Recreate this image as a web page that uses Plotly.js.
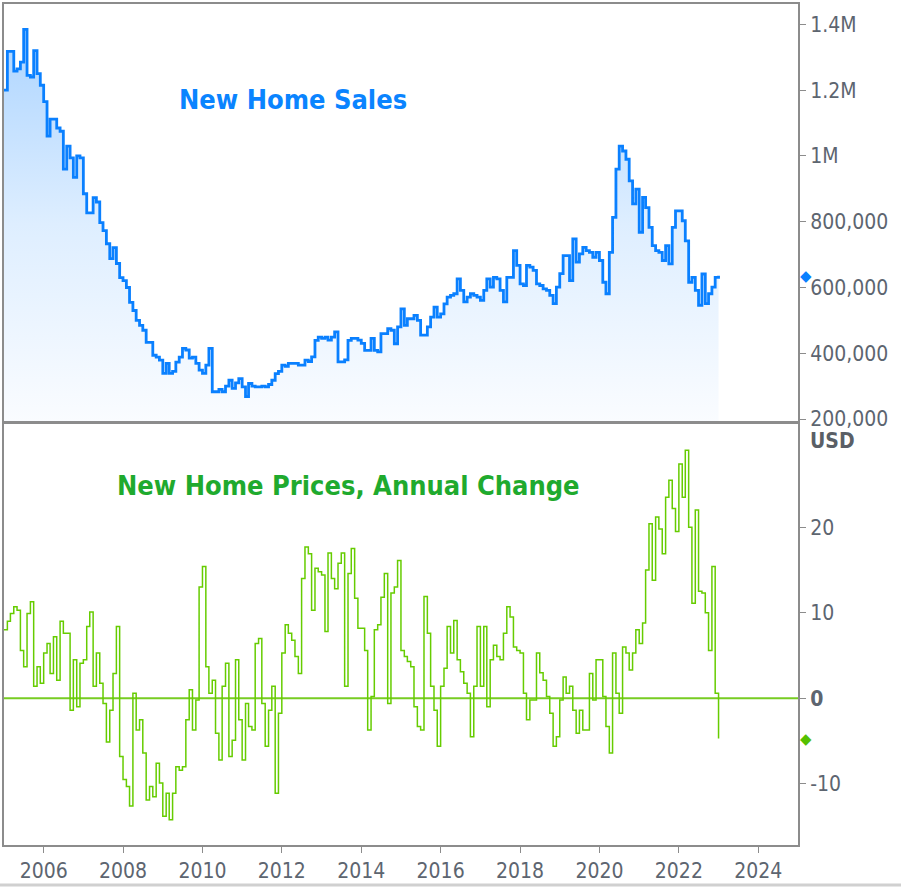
<!DOCTYPE html>
<html>
<head>
<meta charset="utf-8">
<script src="https://cdn.plot.ly/plotly-3.0.1.min.js"></script>
<style>html,body{margin:0;padding:0;background:#fff;}#chart{width:901px;height:888px;}</style>
</head>
<body>
<div id="chart"></div>
<script>
// Monthly series, Jan 2005 .. Jan 2023
const startYear = 2005;
// New home sales, thousands (SAAR)
const salesThousands = [
  1200,1318,1318,1258,1265,1285,1385,1245,1240,1320,1250,1215,
  1165,1060,1112,1112,1085,1075,960,1030,994,935,1000,994,
  885,827,827,873,860,797,773,733,688,721,673,630,
  621,600,555,530,500,485,470,433,433,394,388,379,
  339,369,339,345,373,388,415,410,385,388,369,349,
  339,364,415,283,283,290,283,300,318,293,310,323,
  298,268,308,300,298,298,300,298,305,318,338,345,
  364,360,369,369,369,364,364,379,375,389,439,449,
  445,449,440,449,465,374,374,380,439,445,445,440,
  430,409,409,445,409,404,460,460,475,470,429,480,
  535,485,505,505,515,500,455,455,480,510,540,510,
  520,550,571,576,581,626,591,556,571,581,576,571,
  561,591,626,601,631,626,591,556,631,631,712,667,
  611,606,667,662,652,611,606,596,591,576,551,601,
  642,697,697,621,748,677,702,722,712,707,692,707,
  682,616,581,707,813,960,1030,1015,990,924,854,899,
  768,874,843,783,727,712,707,682,727,672,783,833,
  833,803,742,616,631,591,546,641,551,581,601,631,
  636
];
// New home prices, annual change (%)
const priceChange = [
  8.0,9.0,9.9,10.7,10.3,5.6,3.7,9.9,11.3,1.4,3.7,1.75,
  5.3,6.4,2.9,7.2,2.1,9.0,7.6,7.6,-1.4,4.5,-1.0,4.1,
  4.5,8.4,10.1,1.4,5.3,1.75,-0.6,-5.1,-1.4,2.9,8.4,-6.8,
  -9.5,-10.3,-12.6,0.6,-3.7,-2.5,-6.4,-11.9,-10.3,-11.5,-7.6,-9.9,
  -13.8,-11.1,-14.2,-11.1,-8.0,-8.4,-8.0,-2.5,1.0,-3.7,-0.2,13.0,
  15.4,3.7,0.6,2.1,-4.1,-7.2,1.4,4.1,-6.8,-4.9,4.5,-2.5,
  -7.2,-0.6,-3.3,-3.7,6.4,7.0,-0.6,-5.6,-1.4,1.4,-11.1,-1.75,
  5.3,8.6,7.6,6.8,4.9,2.9,14.0,17.7,16.9,10.3,15.2,14.8,
  14.4,7.8,17.0,14.0,12.8,15.8,17.0,1.4,14.6,17.5,11.7,8.2,
  8.2,5.6,-3.7,0.2,8.0,8.6,11.8,14.6,-0.6,12.3,13.0,16.1,
  5.6,4.9,4.3,3.7,-1.0,-3.3,-3.7,11.9,7.6,1.4,-1.4,-5.6,
  1.4,3.5,8.4,5.3,9.1,4.5,3.1,1.75,0.6,-4.5,1.4,8.4,
  1.4,8.4,-1.0,4.5,6.2,4.9,4.5,7.6,10.7,9.5,6.0,5.6,
  5.3,0.6,-2.5,-0.2,-0.2,5.3,3.0,2.1,0.2,-1.75,-5.6,-4.5,
  -0.2,2.5,0.6,1.4,-1.4,-4.1,-1.4,-3.7,-3.7,2.9,-0.2,4.5,
  4.5,0.2,-3.3,-6.4,5.3,0.6,-1.75,6.0,5.3,3.3,5.3,8.0,
  6.4,8.8,15.0,20.4,13.8,21.2,19.8,16.9,23.5,25.5,22.2,19.5,
  27.4,23.5,29.0,20.0,11.1,22.0,12.5,12.3,10.0,5.6,15.4,0.6,
  -4.7
];
const xTickYears = ['2006','2008','2010','2012','2014','2016','2018','2020','2022','2024'];
const salesTickVals = [200,400,600,800,1000,1200,1400];
const salesTickText = ['200,000','400,000','600,000','800,000','1M','1.2M','1.4M'];
const priceTickVals = [-10,0,10,20];
const priceTickText = ['-10','<b>0</b>','10','20'];
const salesTitle = 'New Home Sales';
const priceTitle = 'New Home Prices, Annual Change';
const unitLabel = 'USD';

const months = salesThousands.map((_, i) => {
  const y = startYear + Math.floor(i / 12);
  const m = (i % 12) + 1;
  return y + '-' + String(m).padStart(2, '0') + '-01';
});

const FONT = "'DejaVu Sans Condensed', 'DejaVu Sans', Verdana, sans-serif";
const TICKCOL = '#5d6570';
const FRAME = '#8c8c8c';
const BLUE = '#0a80ff';
const GREEN = '#66cc00';

const traces = [
  {
    x: months, y: salesThousands, xaxis: 'x2', yaxis: 'y',
    type: 'scatter', mode: 'lines',
    line: {color: BLUE, width: 2.8, shape: 'hv'},
    fill: 'tozeroy',
    fillgradient: {type: 'vertical', start: 191, stop: 1390,
      colorscale: [[0, 'rgba(250,252,255,1)'], [0.5, 'rgba(222,238,255,1)'], [1, 'rgba(172,212,255,1)']]},
    hoverinfo: 'skip', showlegend: false
  },
  {
    x: months, y: priceChange, xaxis: 'x', yaxis: 'y2',
    type: 'scatter', mode: 'lines',
    line: {color: GREEN, width: 1.5, shape: 'hv'},
    hoverinfo: 'skip', showlegend: false
  }
];

const xCommon = {
  range: ['2005-01-01', '2025-01-01'],
  domain: [4/901, 798/901],
  showgrid: false, zeroline: false,
  showline: true, linecolor: FRAME, linewidth: 2,
  layer: 'above traces',
  tickfont: {family: FONT, size: 21, color: TICKCOL}
};

const layout = {
  width: 901, height: 888,
  margin: {l: 0, r: 0, t: 0, b: 0},
  paper_bgcolor: '#ffffff', plot_bgcolor: '#ffffff',
  font: {family: FONT},
  showlegend: false,
  xaxis: Object.assign({}, xCommon, {
    anchor: 'y2', type: 'date', mirror: false,
    tickmode: 'array', tickvals: xTickYears.map(y => y + '-01-01'), ticktext: xTickYears,
    ticks: 'outside', ticklen: 6, tickwidth: 1, tickcolor: FRAME
  }),
  xaxis2: Object.assign({}, xCommon, {
    anchor: 'y', type: 'date', matches: 'x', mirror: true, showticklabels: false, ticks: ''
  }),
  yaxis: {
    domain: [1 - 422/888, 1 - 4/888],
    range: [191, 1462], side: 'right', anchor: 'x2',
    tickmode: 'array', tickvals: salesTickVals, ticktext: salesTickText,
    ticks: 'outside', ticklen: 6, tickwidth: 1, tickcolor: FRAME,
    showgrid: false, zeroline: false, layer: 'above traces',
    showline: true, linecolor: FRAME, linewidth: 2, mirror: true,
    tickfont: {family: FONT, size: 21, color: TICKCOL}
  },
  yaxis2: {
    domain: [1 - 845/888, 1 - 422/888],
    range: [-17.15, 32.3], side: 'right', anchor: 'x',
    tickmode: 'array', tickvals: priceTickVals, ticktext: priceTickText,
    ticks: 'outside', ticklen: 6, tickwidth: 1, tickcolor: FRAME,
    showgrid: false, zeroline: false, layer: 'above traces',
    showline: true, linecolor: FRAME, linewidth: 2, mirror: true,
    tickfont: {family: FONT, size: 21, color: TICKCOL}
  },
  shapes: [
    {type: 'line', xref: 'x domain', x0: 0, x1: 1, yref: 'y2', y0: 0, y1: 0,
     line: {color: '#77cc22', width: 2}, layer: 'below'},
    // divider between the two panels
    {type: 'line', xref: 'paper', x0: 4/901, x1: 798/901, yref: 'paper', y0: 1 - 422/888, y1: 1 - 422/888,
     line: {color: FRAME, width: 2}, layer: 'above'},
    {type: 'line', xref: 'paper', x0: 0, x1: 1, yref: 'paper', y0: 3/888, y1: 3/888,
     line: {color: '#d0d0d0', width: 3}}
  ],
  annotations: [
    {text: '<b>' + salesTitle + '</b>', xref: 'paper', yref: 'paper',
     x: 293/901, y: 1 - 100/888, xanchor: 'center', yanchor: 'middle', showarrow: false,
     font: {family: FONT, size: 27, color: '#0a84ff'}},
    {text: '<b>' + priceTitle + '</b>', xref: 'paper', yref: 'paper',
     x: 348/901, y: 1 - 485/888, xanchor: 'center', yanchor: 'middle', showarrow: false,
     font: {family: FONT, size: 27, color: '#1faa2e'}},
    {text: '<b>' + unitLabel + '</b>', xref: 'paper', yref: 'paper',
     x: 808/901, y: 1 - 441/888, xanchor: 'left', yanchor: 'middle', showarrow: false,
     font: {family: FONT, size: 21, color: '#5a5f66'}},
    // last-value markers on the right axes
    {text: '◆', xref: 'paper', yref: 'y', x: 806/901,
     y: salesThousands[salesThousands.length - 1], xanchor: 'center', yanchor: 'middle',
     showarrow: false, font: {family: 'DejaVu Sans', size: 15, color: BLUE}},
    {text: '◆', xref: 'paper', yref: 'y2', x: 806/901,
     y: priceChange[priceChange.length - 1], xanchor: 'center', yanchor: 'middle',
     showarrow: false, font: {family: 'DejaVu Sans', size: 15, color: '#55c000'}}
  ]
};

Plotly.newPlot('chart', traces, layout, {displayModeBar: false, staticPlot: true});
</script>
</body>
</html>
